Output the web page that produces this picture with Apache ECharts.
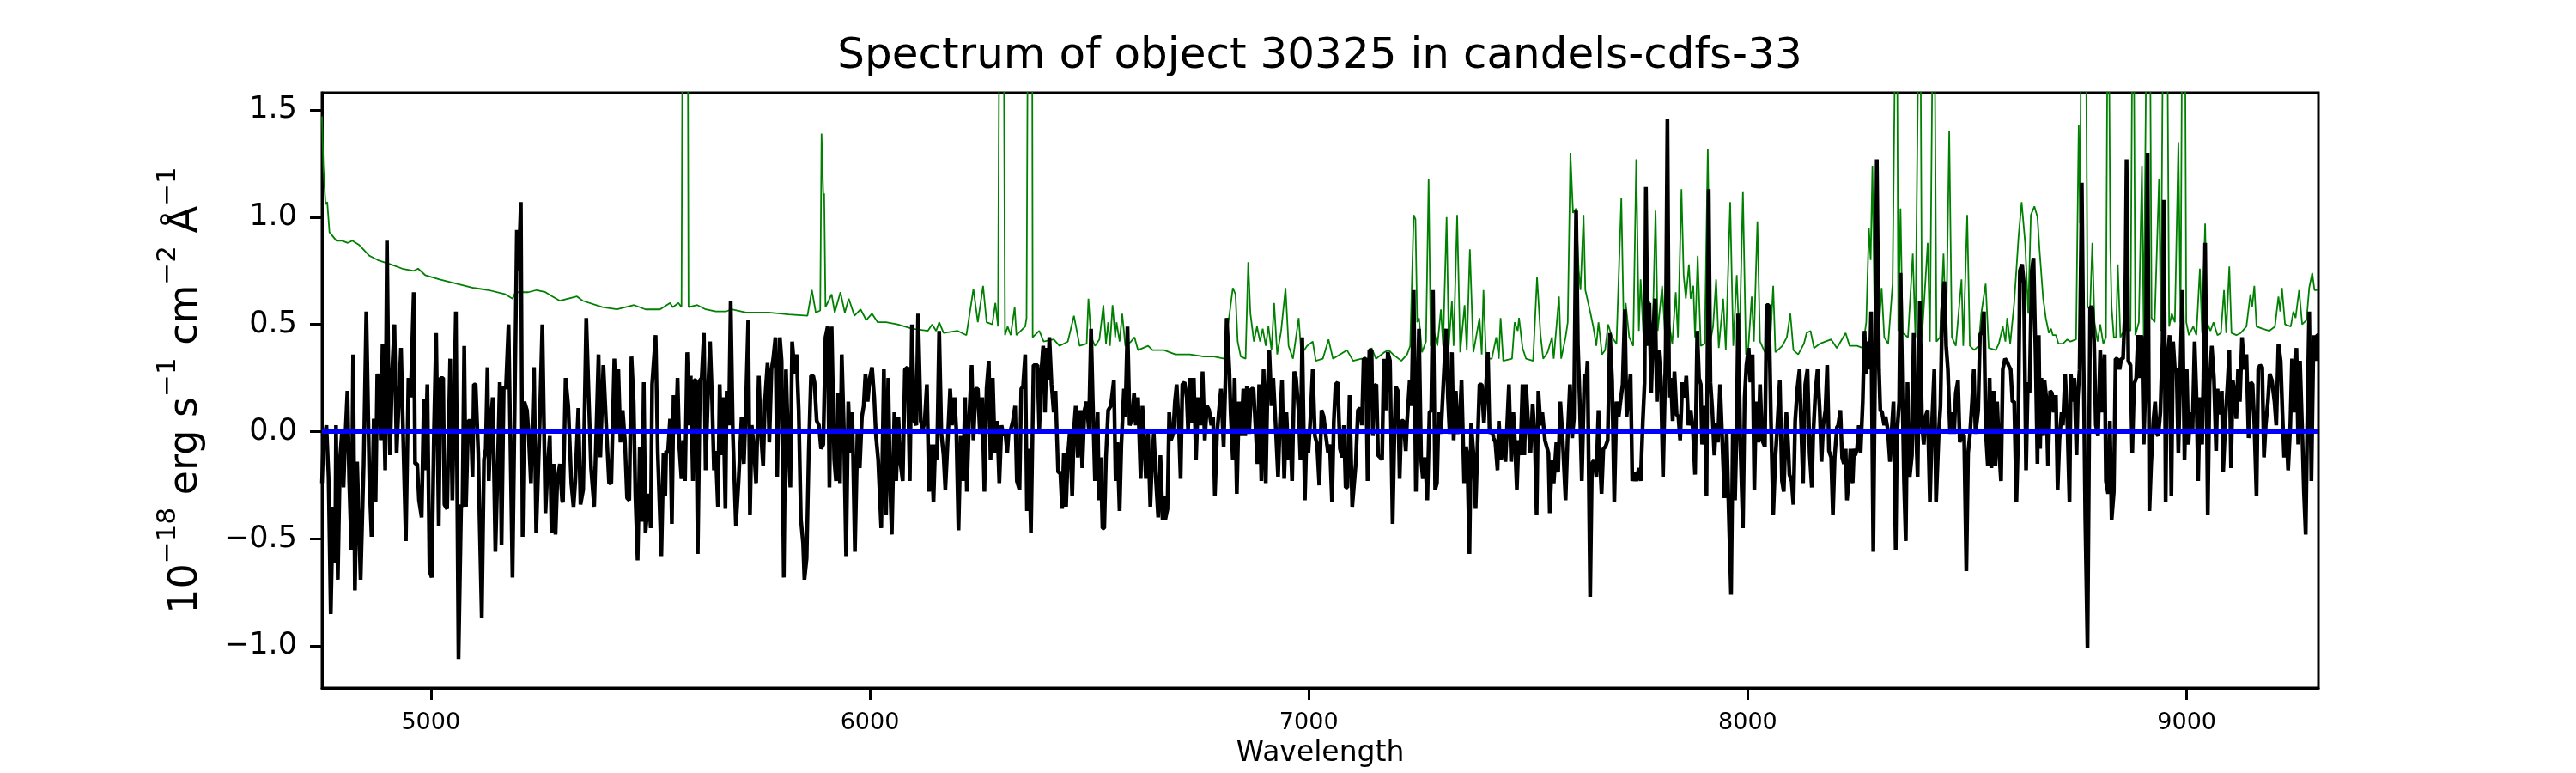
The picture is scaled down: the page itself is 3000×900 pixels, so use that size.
<!DOCTYPE html>
<html>
<head>
<meta charset="utf-8">
<script src="https://cdn.jsdelivr.net/npm/echarts@6/dist/echarts.min.js"></script>
<style>
html,body{margin:0;padding:0;background:#fff;}
#chart{width:3000px;height:900px;}
</style>
</head>
<body>
<div id="chart"></div>
<script>
// ---- data (wavelength in Angstrom, flux in 1e-18 erg/s/cm2/A) ----
const chartTitle = 'Spectrum of object 30325 in candels-cdfs-33';
const xTicks = [5000, 6000, 7000, 8000, 9000];
const yTicks = [-1, -0.5, 0, 0.5, 1, 1.5];
const xRange = [4752, 9300];
const yRange = [-1.195, 1.58];

// observed spectrum (black)
const specFlux = [
[4752,-0.24],[4755,-0.06],[4762,0.03],[4767,-0.21],[4772,-0.85],[4777,-0.35],[4782,-0.61],[4784,0.03],[4788,-0.69],[4793,-0.13],
[4798,0.01],[4801,-0.26],[4804,-0.08],[4810,0.19],[4814,-0.23],[4819,-0.55],[4823,0.36],[4827,-0.74],[4832,-0.14],[4840,-0.69],
[4847,-0.15],[4853,0.56],[4860,-0.23],[4865,-0.49],[4870,0.06],[4874,-0.33],[4878,0.27],[4883,0.22],[4886,-0.04],[4890,0.41],
[4896,-0.18],[4900,0.89],[4904,0.14],[4907,-0.11],[4912,0.29],[4917,0.50],[4922,-0.10],[4927,0.14],[4932,0.39],[4938,-0.11],
[4943,-0.51],[4949,0.25],[4954,0.16],[4961,0.65],[4964,-0.15],[4969,-0.15],[4973,-0.32],[4979,-0.40],[4984,0.15],[4987,-0.18],
[4992,0.22],[4997,-0.65],[5002,-0.68],[5007,-0.01],[5012,0.46],[5018,-0.44],[5022,0.25],[5028,0.25],[5031,-0.34],[5037,-0.36],
[5044,0.34],[5049,-0.32],[5057,0.56],[5063,-1.06],[5069,-0.34],[5072,-0.35],[5076,0.40],[5080,-0.35],[5085,0.05],[5091,0.05],
[5095,-0.21],[5098,0.22],[5102,0.22],[5108,-0.10],[5111,-0.41],[5116,-0.87],[5121,-0.13],[5125,-0.08],[5129,0.30],[5132,-0.23],
[5137,0.06],[5141,0.16],[5147,-0.56],[5153,-0.11],[5157,0.23],[5161,-0.53],[5166,0.21],[5171,0.20],[5177,0.50],[5186,-0.68],
[5191,0.12],[5196,0.94],[5200,0.75],[5205,1.07],[5209,-0.49],[5213,0.14],[5219,0.10],[5223,-0.02],[5228,-0.24],[5235,0.30],
[5240,-0.47],[5247,-0.03],[5254,0.50],[5261,-0.38],[5266,-0.17],[5271,-0.02],[5275,-0.47],[5281,-0.15],[5284,-0.48],[5288,-0.23],
[5294,-0.15],[5299,-0.32],[5301,-0.33],[5307,0.25],[5313,0.12],[5320,-0.24],[5325,-0.35],[5329,-0.23],[5336,0.11],[5341,-0.34],
[5347,-0.27],[5354,0.53],[5360,0.14],[5365,-0.17],[5372,-0.35],[5382,0.36],[5386,-0.12],[5393,0.31],[5399,0.05],[5406,-0.24],
[5411,-0.24],[5418,0.34],[5423,0.00],[5427,0.29],[5432,-0.05],[5437,0.10],[5442,-0.04],[5447,-0.31],[5452,-0.32],[5457,0.35],
[5462,0.14],[5466,-0.30],[5471,-0.60],[5476,-0.07],[5481,-0.42],[5485,0.23],[5489,-0.47],[5496,-0.29],[5501,-0.45],[5504,0.22],
[5512,0.45],[5517,-0.10],
[5525,-0.58],[5530,-0.10],[5534,-0.30],[5536,-0.09],[5540,-0.10],[5545,0.06],[5549,-0.43],[5553,0.17],[5558,-0.01],[5562,0.25],
[5566,-0.07],[5571,-0.22],[5575,-0.04],[5579,-0.23],[5584,0.37],[5589,0.03],[5592,0.26],[5597,-0.23],[5600,0.24],[5604,0.24],
[5608,-0.57],[5613,0.24],[5617,0.25],[5622,0.46],[5626,-0.18],[5632,0.22],[5636,0.42],[5641,0.13],[5645,-0.18],[5649,-0.09],
[5654,-0.35],[5658,0.22],[5662,-0.11],[5666,0.16],[5671,-0.36],[5674,0.19],[5679,0.03],[5683,0.61],[5688,-0.01],[5695,-0.44],
[5701,-0.23],[5708,0.07],[5713,-0.15],[5718,0.14],[5723,0.52],[5727,-0.39],[5731,0.03],[5736,-0.08],[5741,-0.24],[5747,0.26],
[5752,-0.01],[5757,-0.16],[5761,0.14],[5767,0.32],[5771,-0.05],[5776,0.29],[5780,0.34],[5785,0.44],[5789,-0.21],[5795,0.44],
[5799,0.33],[5804,-0.68],[5809,0.29],[5814,-0.05],[5819,-0.26],[5823,0.42],[5829,0.27],[5833,0.36],[5838,0.10],[5843,-0.41],
[5848,-0.52],[5851,-0.69],[5856,-0.59],[5861,-0.09],[5866,0.26],[5871,0.26],[5874,0.23],[5879,0.05],[5884,0.03],[5889,-0.08],
[5894,-0.06],[5899,0.44],[5904,0.49],[5908,-0.26],[5913,0.49],[5919,-0.13],[5923,-0.23],[5928,0.18],[5932,-0.24],[5936,0.36],
[5941,0.00],[5946,-0.58],[5951,0.14],[5956,-0.10],[5960,0.09],[5966,-0.56],[5972,0.01],[5977,-0.17],[5982,0.07],[5986,0.12],
[5990,0.27],[5995,0.14],[6000,0.25],[6005,0.30],[6010,0.16],[6014,-0.02],[6019,-0.13],[6026,-0.45],[6032,0.29],[6037,-0.39],
[6042,0.25],[6046,-0.23],[6050,-0.48],[6056,0.09],[6060,-0.23],[6065,0.07],[6070,-0.15],[6075,-0.23],[6080,0.29],[6086,0.30],
[6091,-0.23],[6096,0.50],[6101,0.05],[6106,0.03],[6110,0.55],[6116,0.05],[6121,0.01],[6125,0.05],[6130,0.22],[6135,-0.28],
[6140,-0.06],[6145,-0.33],[6149,-0.06],[6153,-0.13],[6158,0.47],[6163,-0.01],[6168,-0.11],[6172,-0.27],[6178,-0.02],[6183,0.20],
[6187,0.03],[6193,0.16],[6197,0.01],[6202,-0.46],[6207,-0.02],[6212,-0.23],[6217,0.16],[6221,-0.28],[6226,0.05],[6232,0.31],
[6236,-0.04],[6241,0.20],[6246,0.20],[6251,-0.01],[6256,0.16],[6261,-0.28],[6266,0.20],[6271,0.33],[6275,-0.13],[6280,0.25],
[6285,-0.10],[6290,0.05],[6295,-0.24],[6300,0.03],
[6305,-0.02],[6308,0.01],[6313,-0.10],[6316,-0.01],[6321,0.01],[6326,0.05],[6331,0.12],[6335,-0.23],[6341,-0.27],[6345,0.20],
[6349,0.21],[6354,0.36],[6358,-0.37],[6362,-0.08],[6367,-0.47],[6370,-0.09],[6373,0.31],[6378,0.31],[6382,0.31],[6386,0.01],
[6391,0.29],[6395,0.40],[6399,0.09],[6403,0.39],[6406,0.24],[6409,0.44],[6414,0.22],[6419,0.09],[6423,0.19],[6429,-0.19],
[6434,-0.19],[6438,-0.36],[6442,-0.10],[6447,-0.35],[6451,-0.12],[6456,0.01],[6461,-0.30],[6465,0.01],[6469,0.12],[6474,-0.12],
[6480,0.10],[6484,-0.17],[6489,0.10],[6494,0.14],[6499,0.01],[6504,0.48],[6508,0.14],[6513,-0.23],[6519,0.09],[6522,-0.32],
[6526,-0.12],[6530,-0.45],[6534,-0.45],[6538,-0.12],[6543,0.10],[6549,0.12],[6556,0.24],[6560,-0.23],[6564,-0.05],[6569,-0.37],
[6573,-0.06],[6579,0.20],[6582,0.07],[6587,0.49],[6592,0.03],[6597,0.05],[6602,0.18],[6606,0.03],[6611,0.16],[6617,-0.22],
[6621,0.12],[6624,0.01],[6629,-0.22],[6634,-0.01],[6639,-0.35],[6643,-0.13],[6647,-0.01],[6652,-0.23],[6657,-0.40],[6662,-0.11],
[6667,-0.41],[6670,-0.30],[6673,-0.41],[6678,-0.36],[6682,0.09],[6686,-0.04],[6691,-0.01],[6695,0.14],[6699,0.22],[6704,0.03],
[6708,-0.22],[6712,0.22],[6717,0.23],[6722,0.16],[6725,0.01],[6730,0.25],[6734,0.04],[6738,0.25],[6743,-0.13],[6748,0.16],
[6754,0.03],[6758,0.28],[6763,-0.04],[6768,0.12],[6773,0.10],[6778,0.03],[6782,0.07],[6786,-0.30],[6791,-0.01],[6795,0.09],
[6800,0.20],[6806,-0.07],[6810,0.23],[6813,0.53],[6819,0.29],[6822,0.09],[6827,-0.13],[6831,0.25],[6836,-0.29],[6841,0.14],
[6846,-0.02],[6851,0.20],[6855,-0.02],[6859,0.21],[6864,-0.01],[6869,0.20],[6874,0.20],[6879,0.01],[6883,-0.15],[6887,0.22],
[6892,-0.23],[6897,0.29],[6902,-0.24],[6906,0.20],[6910,0.38],[6915,0.12],[6919,0.25],[6924,0.05],[6930,-0.21],[6934,0.03],
[6939,0.24],[6944,-0.22],[6949,0.09],[6954,-0.13],[6958,-0.01],[6962,-0.23],[6967,0.28],[6971,0.25],[6977,0.09],[6981,-0.13],
[6985,0.44],[6991,-0.32],[6995,-0.01],[6999,-0.10],[7004,0.07],[7009,0.29],[7014,-0.02],[7019,-0.06],[7024,-0.25],[7029,0.10],
[7034,0.07],[7039,-0.02],[7044,-0.10],[7048,-0.06],[7053,-0.33],[7057,0.05],[7061,0.22],[7066,0.23],[7071,-0.08],[7076,-0.12],
[7080,0.03],[7084,-0.26],[7088,-0.26],[7093,0.17],[7099,-0.35],
[7107,-0.15],[7112,0.10],[7117,0.11],[7121,0.03],[7125,0.34],[7130,0.34],[7134,-0.23],[7138,0.38],[7143,0.38],[7146,-0.02],
[7149,0.21],[7154,0.22],[7158,-0.11],[7163,-0.12],[7167,-0.13],[7171,0.34],[7176,0.10],[7180,0.37],[7185,0.33],[7191,-0.43],
[7195,-0.02],[7198,0.21],[7203,0.19],[7207,-0.22],[7211,0.05],[7216,0.05],[7221,-0.09],[7224,0.05],[7230,0.24],[7234,0.12],
[7239,0.66],[7244,-0.28],[7251,0.48],[7256,-0.13],[7260,-0.22],[7265,-0.12],[7270,-0.32],[7275,0.09],[7279,0.10],[7283,0.66],
[7288,-0.27],[7292,-0.24],[7296,0.09],[7301,-0.01],[7306,0.20],[7313,0.48],[7317,0.16],[7321,-0.01],[7326,0.37],[7330,-0.04],
[7335,0.19],[7339,-0.01],[7344,0.05],[7348,0.24],[7354,-0.24],[7358,-0.07],[7361,-0.10],[7366,-0.57],[7370,0.04],[7375,-0.10],
[7380,-0.36],[7384,-0.09],[7389,0.22],[7394,0.22],[7399,0.04],[7404,0.22],[7408,0.37],[7412,-0.01],[7417,0.01],[7421,-0.03],
[7425,-0.05],[7430,-0.18],[7433,0.05],[7438,-0.13],[7443,0.00],[7448,-0.14],[7451,-0.01],[7456,0.22],[7461,-0.14],[7466,0.09],
[7469,-0.02],[7474,-0.27],[7478,-0.04],[7482,-0.11],[7487,0.22],[7491,-0.11],[7495,0.22],[7500,0.03],[7505,-0.10],[7510,0.13],
[7515,-0.04],[7519,-0.39],[7523,0.19],[7528,0.03],[7532,0.09],[7538,-0.04],[7542,-0.07],[7546,-0.10],[7549,-0.38],[7554,-0.13],
[7558,-0.24],[7564,-0.05],[7568,-0.19],[7573,0.14],[7578,-0.02],[7585,-0.32],[7590,-0.01],[7595,0.22],[7600,-0.03],[7604,0.06],
[7609,1.03],[7613,0.41],[7617,0.16],[7622,-0.23],[7628,0.27],[7632,0.22],[7635,0.33],[7641,-0.77],[7645,-0.15],[7650,-0.13],
[7655,-0.21],[7660,0.10],[7663,-0.13],[7667,-0.29],[7671,-0.08],[7676,-0.07],[7681,-0.04],[7686,0.46],[7691,0.24],[7696,-0.33],
[7701,0.14],[7706,0.07],[7710,0.14],[7715,0.22],[7720,0.57],[7724,0.07],[7729,0.18],[7733,0.27],[7737,-0.23],[7742,-0.19],
[7746,-0.23],[7752,-0.17],[7756,-0.23],[7761,0.05],[7765,0.23],[7768,1.14],[7772,0.40],[7776,0.60],[7780,0.18],[7784,0.44],
[7789,0.62],[7793,0.14],[7797,0.38],[7802,0.25],[7807,-0.21],[7813,0.36],[7817,1.46],[7821,0.16],[7825,0.25],[7829,0.05],
[7833,0.28],[7838,0.08],[7842,0.07],[7846,-0.04],[7851,0.23],[7856,0.16],[7860,0.26],[7865,0.03],[7870,0.10],[7875,0.01],
[7880,-0.20],
[7885,0.47],[7889,0.25],[7893,0.22],[7896,-0.06],[7902,0.12],[7906,-0.30],[7911,1.13],[7915,0.23],[7919,0.11],[7924,-0.11],
[7928,0.04],[7932,-0.05],[7937,0.22],[7942,-0.04],[7947,-0.31],[7952,-0.01],[7956,-0.32],[7962,-0.76],[7966,-0.01],[7971,-0.32],
[7975,0.04],[7978,0.55],[7983,-0.04],[7989,-0.45],[7993,0.16],[7997,0.31],[8002,0.39],[8006,0.23],[8011,0.36],[8015,-0.27],
[8019,0.14],[8024,-0.05],[8028,0.22],[8033,-0.04],[8039,-0.07],[8043,0.59],[8048,0.59],[8053,0.04],[8058,-0.39],[8063,-0.12],
[8067,0.01],[8073,0.24],[8078,-0.23],[8082,-0.28],[8088,0.09],[8092,-0.06],[8095,-0.20],[8100,-0.23],[8104,-0.34],[8108,0.05],
[8113,0.20],[8118,0.29],[8121,0.07],[8126,-0.24],[8131,0.22],[8136,0.29],[8141,-0.10],[8146,-0.26],[8149,-0.02],[8154,0.18],
[8159,0.29],[8164,0.10],[8168,-0.14],[8172,0.03],[8177,0.10],[8181,0.31],[8185,-0.09],[8190,-0.12],[8194,-0.39],[8198,-0.12],
[8203,0.02],[8206,0.03],[8211,0.10],[8215,-0.12],[8219,-0.15],[8223,-0.08],[8226,-0.32],[8230,-0.23],[8234,-0.08],[8239,-0.24],
[8242,-0.08],[8245,-0.11],[8249,-0.08],[8253,0.03],[8257,-0.10],[8262,0.14],[8266,0.47],[8270,0.27],[8273,0.42],[8278,0.29],
[8281,0.56],[8286,-0.56],[8290,0.29],[8294,1.27],[8299,0.29],[8302,0.10],[8306,0.09],[8311,0.03],[8314,0.07],[8319,0.01],
[8324,-0.14],[8328,0.01],[8332,0.14],[8337,-0.55],[8340,-0.01],[8345,0.14],[8348,0.74],[8352,0.22],[8356,-0.23],[8360,-0.51],
[8364,0.23],[8369,-0.21],[8374,-0.11],[8378,0.46],[8382,0.09],[8387,-0.21],[8392,0.61],[8397,0.03],[8401,-0.06],[8405,0.07],
[8410,0.10],[8415,-0.33],[8420,0.05],[8425,0.29],[8429,-0.33],[8435,-0.01],[8439,0.12],[8443,0.56],[8448,0.70],[8452,0.40],
[8456,0.29],[8461,-0.01],[8465,0.09],[8470,-0.01],[8474,0.18],[8479,0.24],[8483,-0.05],[8488,-0.01],[8493,-0.02],[8498,-0.65],
[8502,-0.10],[8506,-0.02],[8511,0.14],[8515,0.29],[8519,-0.01],[8525,0.10],[8529,0.45],[8534,0.47],[8538,0.56],[8542,0.01],
[8547,-0.16],[8551,0.25],[8555,-0.17],[8560,0.19],[8564,-0.16],[8568,0.14],[8573,-0.10],[8577,-0.23],[8581,0.29],[8586,0.34],
[8590,0.33],[8594,0.31],[8599,0.29],[8603,0.14],[8607,0.14],[8612,-0.33],[8616,-0.02],[8620,0.75],[8625,0.78],[8629,0.69],
[8634,-0.18],[8638,0.23],[8642,0.18],[8647,0.75],[8651,0.81],
[8656,0.33],[8660,-0.15],[8663,0.45],[8666,-0.08],[8669,0.25],[8673,-0.02],[8676,0.24],[8680,0.16],[8684,-0.16],[8689,0.19],
[8693,0.18],[8697,0.09],[8702,0.17],[8706,-0.27],[8710,-0.04],[8715,0.09],[8718,0.03],[8723,0.27],[8728,0.05],[8733,-0.33],
[8736,0.27],[8741,0.14],[8744,0.25],[8749,-0.11],[8752,0.16],[8756,0.29],[8761,1.16],[8765,0.33],[8769,-0.41],[8774,-1.01],
[8777,-0.23],[8780,0.58],[8785,0.58],[8789,0.42],[8793,0.03],[8798,-0.02],[8803,0.38],[8808,0.09],[8813,0.36],[8816,-0.23],
[8821,-0.29],[8825,0.05],[8829,-0.41],[8834,-0.28],[8838,0.34],[8842,0.34],[8847,0.29],[8851,0.34],[8855,0.34],[8860,0.60],
[8863,1.27],[8867,0.33],[8872,0.31],[8876,-0.10],[8880,0.22],[8885,0.25],[8889,0.45],[8893,0.25],[8898,0.45],[8902,-0.06],
[8906,0.22],[8911,1.30],[8915,-0.37],[8919,-0.15],[8924,0.05],[8928,0.14],[8932,-0.01],[8935,-0.02],[8940,0.09],[8945,0.42],
[8948,1.08],[8952,-0.33],[8955,0.29],[8958,0.29],[8961,0.45],[8965,-0.30],[8969,0.42],[8973,0.29],[8977,0.29],[8981,-0.10],
[8986,0.33],[8990,0.66],[8995,-0.13],[9000,0.29],[9004,-0.06],[9008,0.09],[9013,-0.01],[9018,0.42],[9022,0.18],[9026,-0.23],
[9030,0.16],[9035,-0.06],[9038,0.25],[9042,0.88],[9048,-0.39],[9052,0.22],[9057,0.40],[9062,0.25],[9067,-0.09],[9070,0.20],
[9076,0.08],[9080,0.19],[9083,-0.19],[9089,0.09],[9093,0.22],[9097,0.38],[9101,-0.17],[9105,0.24],[9110,0.16],[9113,0.06],
[9117,0.29],[9121,0.14],[9126,0.44],[9131,0.29],[9136,0.36],[9141,-0.03],[9146,0.23],[9150,0.22],[9154,0.04],[9159,-0.30],
[9163,0.29],[9167,0.31],[9172,0.30],[9176,-0.12],[9180,0.03],[9185,0.14],[9189,0.27],[9194,0.24],[9200,0.14],[9204,0.03],
[9209,0.41],[9214,0.33],[9218,0.09],[9222,-0.12],[9227,0.01],[9231,-0.18],[9236,0.03],[9240,0.34],[9245,0.09],[9250,0.39],
[9254,-0.06],[9258,0.33],[9263,0.01],[9267,-0.28],[9271,-0.48],[9275,0.09],[9279,0.56],[9284,-0.23],[9289,0.45],[9294,0.33],
[9297,0.45],[9300,0.45]
];

// noise / sky spectrum (green)
const noiseFlux = [
[4752,1.47],[4755,1.24],[4760,1.06],[4764,1.07],[4769,0.93],[4785,0.89],[4798,0.89],[4811,0.88],[4821,0.89],[4837,0.87],
[4860,0.82],[4879,0.80],[4909,0.78],[4935,0.76],[4961,0.75],[4971,0.76],[4987,0.73],[5020,0.71],[5059,0.69],[5098,0.67],
[5131,0.66],[5170,0.64],[5186,0.62],[5193,0.65],[5222,0.65],[5241,0.66],[5261,0.65],[5277,0.63],[5294,0.61],[5333,0.63],
[5346,0.61],[5391,0.58],[5424,0.57],[5463,0.59],[5489,0.57],[5522,0.57],[5545,0.60],[5551,0.58],[5564,0.60],[5571,0.58],
[5575,3.0],[5584,3.0],[5587,0.58],[5607,0.59],[5626,0.57],[5649,0.56],[5672,0.56],[5685,0.57],[5718,0.555],[5770,0.555],
[5815,0.546],[5858,0.54],[5868,0.66],[5877,0.555],[5887,0.565],[5890,1.39],[5894,1.10],[5896,1.11],[5899,0.58],[5913,0.64],
[5920,0.555],[5933,0.65],[5943,0.555],[5952,0.62],[5965,0.54],[5979,0.57],[5992,0.52],[6005,0.55],[6018,0.51],[6037,0.51],
[6063,0.50],[6096,0.48],[6132,0.47],[6142,0.50],[6151,0.47],[6158,0.51],[6168,0.46],[6200,0.47],[6220,0.45],[6236,0.665],
[6246,0.51],[6258,0.68],[6266,0.51],[6279,0.50],[6286,0.60],[6292,0.49],[6297,3.0],[6303,3.0],[6308,0.45],[6314,0.49],
[6321,0.45],[6330,0.58],[6334,0.45],[6344,0.47],[6354,0.49],[6357,0.53],[6362,3.0],[6369,3.0],[6371,0.44],[6386,0.47],
[6396,0.42],[6419,0.43],[6432,0.40],[6451,0.42],[6465,0.54],[6478,0.40],[6494,0.41],[6498,0.62],[6504,0.44],[6513,0.40],
[6523,0.43],[6532,0.59],[6538,0.41],[6543,0.51],[6547,0.40],[6553,0.59],[6559,0.44],[6562,0.51],[6569,0.42],[6575,0.55],
[6582,0.40],[6595,0.42],[6603,0.44],[6611,0.38],[6634,0.40],[6644,0.38],[6670,0.38],[6696,0.36],[6729,0.36],[6761,0.35],
[6784,0.35],[6807,0.34],[6817,0.51],[6827,0.67],[6833,0.64],[6838,0.42],[6845,0.35],[6856,0.34],[6862,0.79],[6867,0.55],
[6875,0.42],[6882,0.49],[6889,0.42],[6895,0.48],[6902,0.40],[6908,0.49],[6915,0.38],[6921,0.60],[6928,0.36],[6937,0.47],
[6947,0.67],[6954,0.40],[6964,0.34],[6977,0.53],[6983,0.36],[6996,0.40],[7009,0.42],[7016,0.33],[7032,0.34],[7045,0.43],
[7055,0.34],[7071,0.36],[7087,0.38],[7101,0.33],[7120,0.34],[7133,0.33],[7143,0.39],[7153,0.34],[7172,0.37],[7182,0.38],
[7192,0.36],[7211,0.33],[7224,0.36],[7231,0.40],[7239,1.01],[7243,0.99],[7247,0.51],[7251,0.53],[7258,0.37],[7267,0.42],
[7273,1.18],[7278,0.40],[7286,0.46],[7293,0.40],[7301,0.57],[7306,0.40],[7314,1.00],[7319,0.40],[7326,0.61],[7330,0.40],
[7338,1.01],[7345,0.37],[7355,0.59],[7360,0.38],[7367,0.85],[7375,0.37],[7389,0.53],[7394,0.36],[7398,0.66],[7404,0.34],
[7417,0.34],[7427,0.44],[7433,0.34],[7437,0.53],[7443,0.33],[7463,0.34],[7469,0.51],[7476,0.47],[7479,0.53],[7487,0.39],
[7495,0.34],[7511,0.33],[7520,0.72],[7528,0.45],[7534,0.34],[7544,0.37],[7554,0.44],[7558,0.34],[7570,0.63],[7575,0.34],
[7585,0.44],[7590,0.51],[7596,1.30],[7602,1.02],[7609,1.04],[7615,0.75],[7619,0.66],[7626,1.01],[7630,0.66],[7642,0.55],
[7648,0.49],[7655,0.40],[7660,0.51],[7668,0.36],[7675,0.38],[7682,0.50],[7691,0.44],[7701,0.41],[7712,1.09],[7718,0.44],
[7722,0.60],[7730,0.44],[7739,0.40],[7746,1.27],[7752,0.47],[7756,0.71],[7763,0.42],[7776,0.61],[7782,0.36],[7790,1.03],
[7795,0.47],[7805,0.68],[7812,0.44],[7819,0.53],[7828,0.41],[7836,0.65],[7841,0.44],[7849,1.13],[7854,0.73],[7859,0.62],
[7866,0.78],[7870,0.62],[7876,0.68],[7880,0.44],[7886,0.82],[7893,0.40],[7902,0.41],[7909,1.32],[7915,0.42],[7921,0.49],
[7928,0.71],[7934,0.39],[7944,0.62],[7950,0.38],[7960,1.07],[7967,0.40],[7975,0.73],[7981,0.40],[7989,1.12],[7996,0.36],
[8001,0.38],[8009,0.63],[8014,0.42],[8022,0.98],[8028,0.42],[8039,0.37],[8050,0.37],[8058,0.68],[8063,0.37],[8079,0.40],
[8089,0.44],[8097,0.55],[8104,0.38],[8115,0.36],[8128,0.41],[8134,0.46],[8143,0.47],[8151,0.39],[8164,0.41],[8177,0.42],
[8190,0.43],[8203,0.39],[8223,0.46],[8232,0.40],[8249,0.40],[8262,0.39],[8270,0.51],[8276,0.95],[8280,0.80],[8284,1.24],
[8289,0.53],[8298,0.45],[8305,0.67],[8311,0.44],[8320,0.41],[8330,0.69],[8339,2.5],[8343,0.47],[8348,1.04],[8353,0.46],
[8365,0.44],[8376,0.83],[8382,0.44],[8392,2.5],[8397,0.44],[8410,0.88],[8415,0.42],[8424,2.5],[8430,0.42],[8438,0.44],
[8446,0.83],[8452,0.44],[8459,1.40],[8465,0.44],[8474,0.40],[8487,0.71],[8491,0.40],[8500,1.01],[8506,0.40],[8516,0.38],
[8526,0.40],[8532,0.55],[8542,0.69],[8549,0.39],[8565,0.38],[8572,0.41],[8581,0.49],[8587,0.42],[8591,0.53],[8598,0.41],
[8607,0.60],[8617,0.91],[8624,1.07],[8632,0.88],[8639,0.55],[8645,1.01],[8653,1.05],[8660,1.00],[8665,0.84],[8673,0.62],
[8679,0.53],[8686,0.46],[8691,0.48],[8695,0.45],[8702,0.45],[8708,0.41],[8718,0.41],[8728,0.43],[8735,0.42],[8748,0.43],
[8754,1.43],[8757,0.97],[8761,2.5],[8769,2.5],[8774,0.58],[8780,0.58],[8785,0.88],[8790,0.51],[8797,0.42],[8803,0.50],
[8810,0.41],[8816,0.44],[8821,2.5],[8826,0.86],[8829,0.58],[8834,0.44],[8839,0.44],[8843,0.78],[8849,0.44],[8862,0.49],
[8872,0.47],[8878,2.5],[8883,0.45],[8891,0.51],[8898,1.24],[8902,0.45],[8911,2.5],[8915,2.5],[8920,0.53],[8927,0.51],
[8937,1.18],[8941,0.47],[8948,2.5],[8954,2.5],[8960,0.49],[8966,0.55],[8973,0.51],[8981,1.35],[8986,0.51],[8991,2.5],
[8995,2.5],[8999,0.51],[9005,0.45],[9015,0.49],[9022,0.45],[9030,0.76],[9035,0.46],[9042,0.97],[9046,0.51],[9054,0.47],
[9061,0.51],[9070,0.45],[9078,0.46],[9085,0.66],[9090,0.46],[9097,0.77],[9102,0.46],[9113,0.45],[9123,0.46],[9136,0.49],
[9145,0.64],[9149,0.58],[9154,0.68],[9159,0.49],[9172,0.48],[9188,0.47],[9201,0.49],[9209,0.63],[9213,0.56],[9217,0.67],
[9224,0.50],[9237,0.49],[9243,0.56],[9248,0.53],[9256,0.66],[9263,0.50],[9273,0.52],[9279,0.67],[9286,0.74],[9291,0.66],
[9300,0.66]
];

// continuum model (blue)
const continuum = [[4752,0],[9300,0]];

// ---- chart ----
const FONT = 'DejaVu Sans';
const chart = echarts.init(document.getElementById('chart'), null, {renderer:'canvas', width:3000, height:900});
const fmtY = v => (v < 0 ? '\u2212' : '') + Math.abs(v).toFixed(1);
const fmtX = v => String(Math.round(v));

chart.setOption({
  animation: false,
  backgroundColor: '#ffffff',
  title: {
    text: chartTitle,
    left: 1537, top: 41, textAlign: 'center', padding: 0,
    textStyle: {fontFamily: FONT, fontSize: 50, fontWeight: 'normal', color: '#000', lineHeight: 50}
  },
  grid: {left: 375, right: 300, top: 108, bottom: 99, show: true, borderColor: '#000', borderWidth: 3, backgroundColor: 'transparent'},
  xAxis: {
    type: 'value', min: xRange[0], max: xRange[1],
    name: 'Wavelength', nameLocation: 'middle', nameGap: 60,
    nameTextStyle: {fontFamily: FONT, fontSize: 33, color: '#000'},
    axisLine: {show: true, onZero: false, lineStyle: {color: '#000', width: 3}},
    axisTick: {show: true, length: 14, customValues: xTicks, lineStyle: {color: '#000', width: 3}},
    axisLabel: {customValues: xTicks, formatter: fmtX, fontFamily: FONT, fontSize: 27, color: '#000', margin: 27},
    splitLine: {show: false}
  },
  yAxis: {
    type: 'value', min: yRange[0], max: yRange[1],
    name: '{n|10}{s|\u221218}{n| erg s}{s|\u22121}{n| cm}{s|\u22122}{n| \u00C5}{s|\u22121}',
    nameLocation: 'middle', nameRotate: 90, nameGap: 135,
    nameTextStyle: {
      fontFamily: FONT, color: '#000',
      rich: {
        n: {fontFamily: FONT, fontSize: 46, lineHeight: 60, color: '#000', verticalAlign: 'bottom'},
        s: {fontFamily: FONT, fontSize: 31, lineHeight: 31, color: '#000', verticalAlign: 'top'}
      }
    },
    axisLine: {show: true, onZero: false, lineStyle: {color: '#000', width: 3}},
    axisTick: {show: true, length: 14, customValues: yTicks, lineStyle: {color: '#000', width: 3}},
    axisLabel: {customValues: yTicks, formatter: fmtY, fontFamily: FONT, fontSize: 35, color: '#000', margin: 29},
    splitLine: {show: false}
  },
  series: [
    {name: 'noise', type: 'line', data: noiseFlux, showSymbol: false, symbol: 'none', clip: true, silent: true, z: 2,
     lineStyle: {color: '#008000', width: 1.8}, emphasis: {disabled: true}},
    {name: 'spectrum', type: 'line', data: specFlux, showSymbol: false, symbol: 'none', clip: true, silent: true, z: 3,
     lineStyle: {color: '#000000', width: 4.5}, emphasis: {disabled: true}},
    {name: 'continuum', type: 'line', data: continuum, showSymbol: false, symbol: 'none', clip: true, silent: true, z: 4,
     lineStyle: {color: '#0000ff', width: 5}, emphasis: {disabled: true}}
  ]
});
</script>
</body>
</html>
